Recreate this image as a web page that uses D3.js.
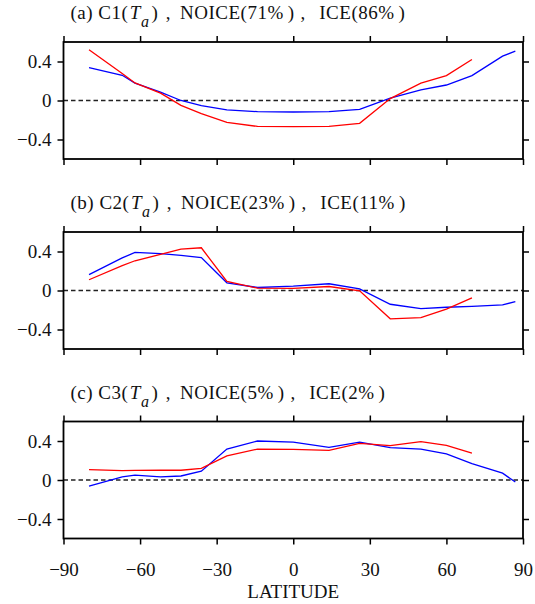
<!DOCTYPE html>
<html>
<head>
<meta charset="utf-8">
<script src="https://cdn.jsdelivr.net/npm/d3@7"></script>
<style>
  body { margin: 0; background: #fff; }
  text { font-family: "Liberation Serif", "Times New Roman", serif; }
</style>
</head>
<body>
<svg id="chart" width="535" height="604"></svg>
<script>
// latitudes of the profile points (blue uses all, red stops at 70N)
var lats = [-80, -67, -62, -52, -44, -36, -26, -14, 0, 14, 26, 38, 50, 60, 70, 82, 87];

var c1Red  = [0.52, 0.276, 0.18, 0.076, -0.05, -0.135, -0.224, -0.266, -0.268, -0.266, -0.234, 0.02, 0.179, 0.255, 0.42];
var c1Blue = [0.338, 0.259, 0.179, 0.086, 0.0, -0.052, -0.097, -0.114, -0.118, -0.114, -0.09, 0.024, 0.11, 0.159, 0.255, 0.455, 0.507];

var c2Red  = [0.11, 0.256, 0.305, 0.371, 0.425, 0.438, 0.093, 0.024, 0.021, 0.041, -0.003, -0.29, -0.279, -0.19, -0.076];
var c2Blue = [0.162, 0.334, 0.39, 0.379, 0.36, 0.338, 0.079, 0.031, 0.045, 0.069, 0.017, -0.141, -0.186, -0.172, -0.162, -0.148, -0.114];

var c3Red  = [0.107, 0.097, 0.098, 0.1, 0.1, 0.12, 0.248, 0.317, 0.315, 0.303, 0.376, 0.352, 0.393, 0.355, 0.276];
var c3Blue = [-0.062, 0.031, 0.05, 0.033, 0.041, 0.09, 0.317, 0.4, 0.388, 0.334, 0.389, 0.331, 0.317, 0.269, 0.169, 0.07, -0.021];

var panelLetters = ['(a)', '(b)', '(c)'];
var modeNames = ['C1', 'C2', 'C3'];
var noicePct = ['71%', '23%', '5%'];
var icePct = ['86%', '11%', '2%'];

var xTicks = [-90, -60, -30, 0, 30, 60, 90];
var yTicks = [-0.4, 0, 0.4];

var series = [[c1Red, c1Blue], [c2Red, c2Blue], [c3Red, c3Blue]];

var svg = d3.select('#chart');
var fontSize = 19;
var tops = [42, 232, 421.5];
var ph = 117;

var x = d3.scaleLinear().domain([-90, 90]).range([63.5, 523]);
var minus = function(s) { return s.replace('-', '\u2212'); };
var yFmt = function(d) { return d === 0 ? '0' : minus(d3.format('.1f')(d)); };

series.forEach(function(s, i) {
	var top = tops[i];
	var y = d3.scaleLinear().domain([-0.6, 0.6]).range([top + ph, top]);
	var g = svg.append('g');

	// title, pieces spaced out like the original typesetting
	var t = g.append('text')
		.attr('x', 70.5)
		.attr('y', top - 23)
		.attr('font-size', fontSize)
		.attr('letter-spacing', 0.5)
		.attr('fill', '#111');
	t.append('tspan').text(panelLetters[i] + '\u00a0' + modeNames[i] + '(');
	t.append('tspan').attr('font-style', 'italic').attr('dx', 1.5).text('T');
	t.append('tspan').attr('font-style', 'italic').attr('font-size', 16).attr('dy', 8).attr('dx', 0).text('a');
	t.append('tspan').attr('dy', -8).attr('dx', 2).text(')');
	t.append('tspan').attr('dx', 7.5).text(',');
	t.append('tspan').attr('dx', 9).text('NOICE(' + noicePct[i]);
	t.append('tspan').attr('dx', 4).text(')');
	t.append('tspan').attr('dx', 6).text(',');
	t.append('tspan').attr('dx', 13.5).text('ICE(' + icePct[i]);
	t.append('tspan').attr('dx', 4).text(')');

	// axes (ticks outward on all four sides)
	var left = g.append('g').attr('transform', 'translate(' + x(-90) + ',0)')
		.call(d3.axisLeft(y).tickValues(yTicks).tickSize(6).tickPadding(6).tickFormat(yFmt));
	var right = g.append('g').attr('transform', 'translate(' + x(90) + ',0)')
		.call(d3.axisRight(y).tickValues(yTicks).tickSize(6).tickFormat(''));
	var topAx = g.append('g').attr('transform', 'translate(0,' + top + ')')
		.call(d3.axisTop(x).tickValues(xTicks).tickSize(6).tickFormat(''));
	var bottom = g.append('g').attr('transform', 'translate(0,' + (top + ph) + ')')
		.call(d3.axisBottom(x).tickValues(xTicks).tickSize(6).tickPadding(18)
			.tickFormat(i === 2 ? function(d) { return minus(String(d)); } : ''));

	[left, right, topAx, bottom].forEach(function(a) {
		a.select('.domain').remove();
		a.selectAll('line').attr('stroke', '#000').attr('stroke-width', 1.5);
		a.selectAll('text').attr('font-size', fontSize).attr('fill', '#111')
			.attr('font-family', '"Liberation Serif", serif');
	});

	// zero line
	g.append('line')
		.attr('x1', x(-90)).attr('x2', x(90))
		.attr('y1', y(0)).attr('y2', y(0))
		.attr('stroke', '#222').attr('stroke-width', 1.4)
		.attr('stroke-dasharray', '4.5,3');

	var line = d3.line().x(function(d) { return x(d[0]); }).y(function(d) { return y(d[1]); });

	g.append('path')
		.datum(s[1].map(function(v, k) { return [lats[k], v]; }))
		.attr('d', line).attr('fill', 'none').attr('stroke', '#0000ff').attr('stroke-width', 1.3);
	g.append('path')
		.datum(s[0].map(function(v, k) { return [lats[k], v]; }))
		.attr('d', line).attr('fill', 'none').attr('stroke', '#ff0000').attr('stroke-width', 1.3);

	// frame
	g.append('rect')
		.attr('x', x(-90)).attr('y', top)
		.attr('width', x(90) - x(-90)).attr('height', ph)
		.attr('fill', 'none').attr('stroke', '#000').attr('stroke-width', 1.8);
});

svg.append('text')
	.attr('x', x(0))
	.attr('y', 598)
	.attr('text-anchor', 'middle')
	.attr('font-size', fontSize)
	.attr('fill', '#111')
	.text('LATITUDE');
</script>
</body>
</html>
